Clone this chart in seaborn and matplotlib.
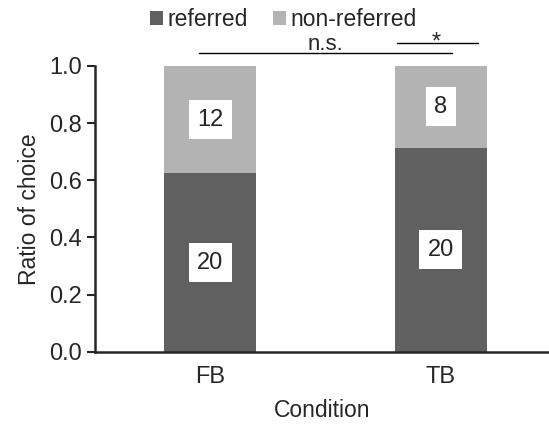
import numpy as np
import pandas as pd
import seaborn as sns
import matplotlib.pyplot as plt

conditions = ['FB', 'TB']
referred = [20, 20]
non_referred = [12, 8]

sns.set_style('ticks')
plt.rcParams['font.family'] = ['Liberation Sans', 'DejaVu Sans']

df = pd.DataFrame({'condition': conditions, 'referred': referred, 'non_referred': non_referred})
df['total'] = df['referred'] + df['non_referred']
df['ratio_ref'] = df['referred'] / df['total']
df['ratio_all'] = 1.0

dark = '#606060'
light = '#b3b3b3'

fig = plt.figure(figsize=(5.49, 4.25), dpi=100)
ax = fig.add_axes([0.173, 0.172, 0.827, 0.673])

sns.barplot(data=df, x='condition', y='ratio_all', color=light, width=0.4,
            saturation=1, linewidth=0, ax=ax, label='non-referred')
sns.barplot(data=df, x='condition', y='ratio_ref', color=dark, width=0.4,
            saturation=1, linewidth=0, ax=ax, label='referred')

# count labels in white boxes
for i, row in df.iterrows():
    ax.text(i, row['ratio_ref'] / 2, str(row['referred']), ha='center', va='center',
            fontsize=17, bbox=dict(facecolor='white', edgecolor='none', pad=6))
    ax.text(i, row['ratio_ref'] + (1 - row['ratio_ref']) / 2, str(row['non_referred']),
            ha='center', va='center', fontsize=17,
            bbox=dict(facecolor='white', edgecolor='none', pad=6))

ax.set_xlim(-0.5, 1.47)
ax.set_ylim(0, 1.0)
ax.set_yticks(np.arange(0, 1.01, 0.2))
ax.set_yticklabels([f'{v:.1f}' for v in np.arange(0, 1.01, 0.2)])
ax.set_xlabel('Condition', fontsize=16.5, labelpad=8)
ax.set_ylabel('Ratio of choice', fontsize=16.5, labelpad=6)
ax.tick_params(axis='both', labelsize=17, width=1.5, length=6)
ax.tick_params(axis='x', length=0, pad=10)
for s in ['left', 'bottom']:
    ax.spines[s].set_linewidth(1.8)
sns.despine(ax=ax)

# significance lines
ax.plot([-0.05, 1.05], [1.045, 1.045], color='black', lw=1, clip_on=False)
ax.text(0.5, 1.056, 'n.s.', ha='center', va='baseline', fontsize=16)
ax.plot([0.81, 1.16], [1.08, 1.08], color='black', lw=1, clip_on=False)
ax.text(0.98, 1.062, '*', ha='center', va='baseline', fontsize=17)

handles, labels = ax.get_legend_handles_labels()
order = [labels.index('referred'), labels.index('non-referred')]
ax.legend([handles[k] for k in order], [labels[k] for k in order],
          loc='center', bbox_to_anchor=(0.415, 1.161), ncol=2, frameon=False,
          fontsize=16.5, handlelength=0.55, handleheight=0.55, handletextpad=0.2,
          columnspacing=1.1, borderaxespad=0, borderpad=0)

fig.savefig('out.png', dpi=100)
